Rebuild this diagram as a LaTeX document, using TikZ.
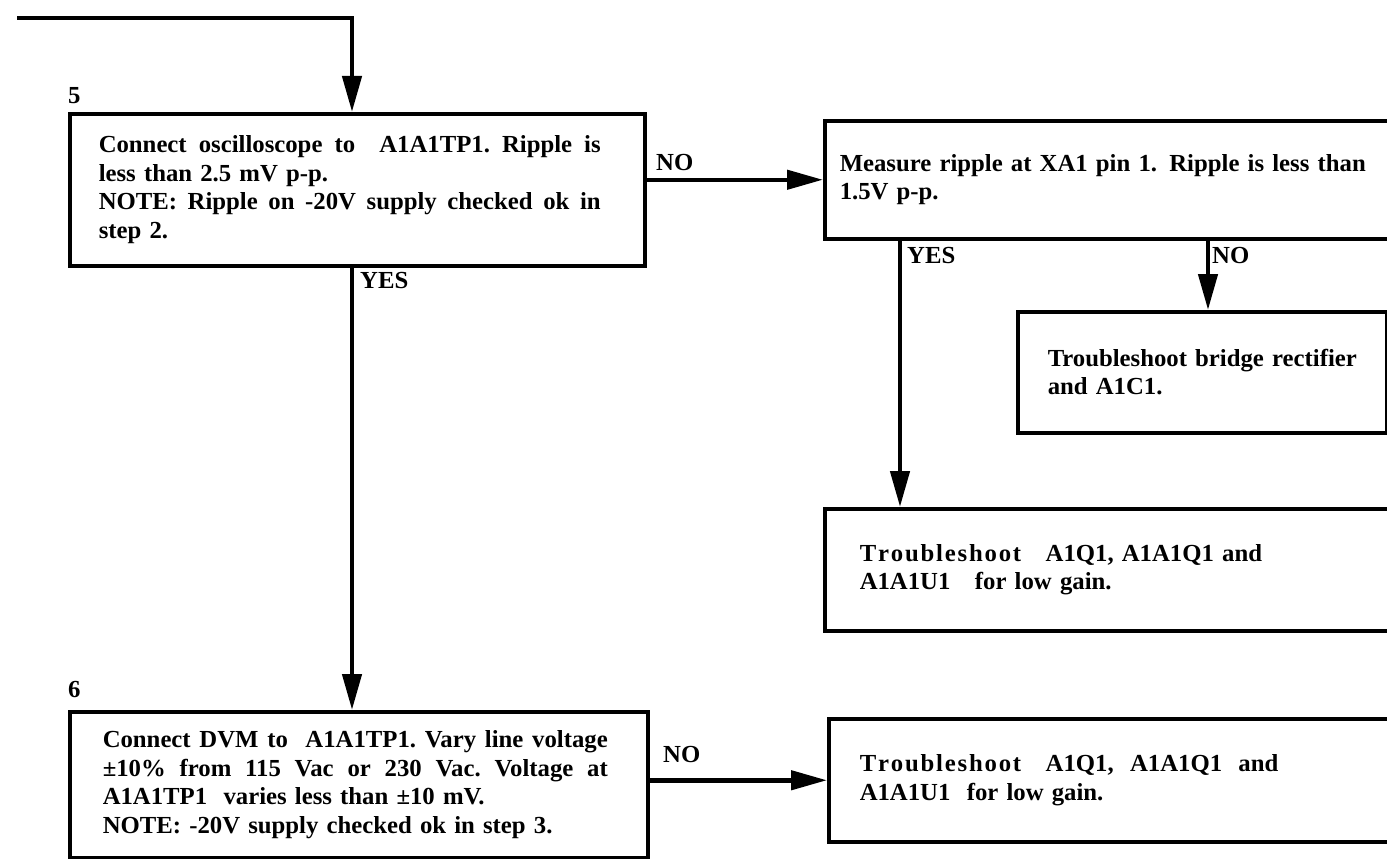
\documentclass[tikz,border=0pt]{standalone}
\usepackage{fontspec}
\setmainfont{Liberation Serif}[FakeStretch=1.01]
\usetikzlibrary{arrows.meta,calc}
\newcommand\fs{\bfseries\fontsize{24.5}{28.5}\selectfont}
\newcommand\tsh{T\kern1.8pt r\kern1.8pt o\kern1.8pt u\kern1.8pt b\kern1.8pt l\kern1.8pt e\kern1.8pt s\kern1.8pt h\kern1.8pt o\kern1.8pt o\kern1.8pt t}
\newcommand\jline[2]{\leavevmode\hbox to #1{\spaceskip=0.25em plus 2em minus 0.05em\xspaceskip=\spaceskip\relax #2}}
\tikzset{
  box/.style={draw, line width=3.5pt, rectangle, inner ysep=0pt, align=left,
    anchor=north west, font=\fs},
  arr/.style={line width=4.5pt, -{Triangle[length=36pt,width=19pt]}},
  lbl/.style={inner sep=0pt, anchor=west, font=\fs},
}
\begin{document}
\begin{tikzpicture}[x=1pt,y=-1pt]
\useasboundingbox (0,0) rectangle (1387,859);
\fill[white] (0,0) rectangle (1387,859);
\clip (0,0) rectangle (1387,859);

% boxes
\node[box, minimum width=575pt, minimum height=152pt, text width=517pt, inner xsep=29pt] (b5) at (68,112)
 {\jline{502pt}{Connect oscilloscope to\ \ A1A1TP1. Ripple is}\\
  \mbox{less than 2.5 mV p-p.}\\
  \jline{502pt}{NOTE: Ripple on -20V supply checked ok in}\\
  \mbox{step 2.}};

\node[box, minimum width=600pt, minimum height=118pt, text width=570pt, inner xsep=15pt] (meas) at (823,119)
 {\mbox{Measure ripple at XA1 pin 1. Ripple is less than}\\
  \mbox{1.5V p-p.}};

\node[box, minimum width=369pt, minimum height=121pt, text width=309pt, inner xsep=30pt] (br) at (1016,310)
 {\mbox{Troubleshoot bridge rectifier}\\
  \mbox{and A1C1.}};

\node[box, minimum width=600pt, minimum height=122pt, text width=532pt, inner xsep=35pt] (t1) at (823,507)
 {\mbox{\tsh\ \ \ A1Q1, A1A1Q1 and}\\
  \mbox{A1A1U1\ \ \ for low gain.}};

\node[box, minimum width=578pt, minimum height=146pt, text width=512pt, inner xsep=33pt] (b6) at (68,710)
 {\jline{505pt}{Connect DVM to\ \ A1A1TP1. Vary line voltage}\\
  \jline{505pt}{±10\% from 115 Vac or 230 Vac. Voltage at}\\
  \mbox{A1A1TP1\ \ varies less than ±10 mV.}\\
  \mbox{NOTE: -20V supply checked ok in step 3.}};

\node[box, minimum width=600pt, minimum height=123pt, text width=538pt, inner xsep=31pt] (t2) at (827,717)
 {\mbox{\tsh\ \ \ A1Q1,\ \ A1A1Q1\ \ and}\\
  \mbox{A1A1U1\ \ for low gain.}};

% step numbers and branch labels
\node[lbl] (l5) at (68,96) {5};
\node[lbl] (l6) at (68,690) {6};
\node[lbl] (no1) at (656,163) {NO};
\node[lbl] (yes1) at (360,281) {YES};
\node[lbl] (yes2) at (907,256) {YES};
\node[lbl] (no2) at (1212,256) {NO};
\node[lbl] (no3) at (663,755) {NO};

% connectors
\coordinate (st) at (17,18);
\coordinate (c5) at (352,0);
\coordinate (cy) at (900,0);
\coordinate (cn) at (1208,0);
\draw[arr] (st) -| (b5.north -| c5);
\draw[arr] (b5.south -| c5) -- (b6.north -| c5);
\draw[arr] (b5.east |- meas.west) -- (meas.west);
\draw[arr] (meas.south -| cy) -- (t1.north -| cy);
\draw[arr] (meas.south -| cn) -- (br.north -| cn);
\draw[arr] (b6.east |- t2.west) -- (t2.west);
\end{tikzpicture}
\end{document}
